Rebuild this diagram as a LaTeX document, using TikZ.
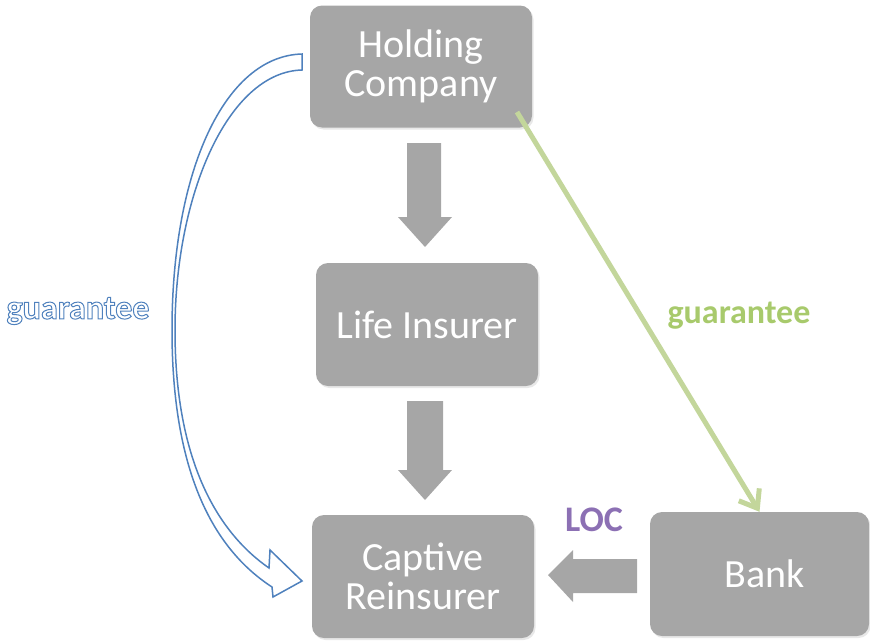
\documentclass[tikz,border=0pt]{standalone}
\usepackage{fontspec}
\setmainfont{Carlito}
\usetikzlibrary{arrows.meta,shadows}
\definecolor{boxgray}{RGB}{166,166,166}
\definecolor{guarblue}{RGB}{79,129,189}
\definecolor{guargreen}{RGB}{195,214,155}
\definecolor{guartext}{RGB}{168,202,108}
\definecolor{locpurple}{RGB}{140,112,180}
\newcommand\outlined[1]{\special{pdf:literal direct 1 Tr 1 w}#1\special{pdf:literal direct 0 Tr}}
\begin{document}
\begin{tikzpicture}[x=1pt,y=-1pt,
  box/.style={draw=none, fill=boxgray, rounded corners=12pt, text=white,
    font=\fontsize{40}{39}\selectfont, align=center,
    minimum width=222pt, minimum height=122pt, inner sep=0pt,
    drop shadow={opacity=0.18, shadow xshift=1.5pt, shadow yshift=-2pt}},
  blockarrow/.style={fill=boxgray, draw=none},
  lbl/.style={font=\bfseries\fontsize{34}{34}\selectfont, inner sep=0pt},
  greenarrow/.style={draw=guargreen, line width=5pt,
    -{Straight Barb[length=16pt, width=24pt]}},
  curvedarrow/.style={fill=white, draw=guarblue, line width=1.5pt, line join=miter}
]
\useasboundingbox (0,0) rectangle (870,640);

% boxes
\node[box] (hc) at (421,66.5) {Holding\\Company};
\node[box, minimum height=123pt] (li) at (427,324.5) {Life Insurer};
\node[box, minimum height=123pt] (cr) at (423,576.5) {Captive\\Reinsurer};
\node[box, minimum width=219pt, minimum height=124pt] (bk) at (759.5,574) {\hspace*{10pt}Bank};

% block arrows
\fill[blockarrow] (407,143) -- (441,143) -- (441,217) -- (452,217) -- (425,247)
  -- (398,217) -- (407,217) -- cycle;
\fill[blockarrow] (407,401) -- (443,401) -- (443,470) -- (452,470) -- (425,500)
  -- (398,470) -- (407,470) -- cycle;
\fill[blockarrow] (637,559) -- (637,593) -- (573,593) -- (573,602) -- (548,575)
  -- (573,550) -- (573,559) -- cycle;

% curved blue guarantee arrow
\draw[curvedarrow] (302,54) .. controls (225,56) and (172,170) .. (172,330)
  .. controls (172,470) and (212,548) .. (272,587)
  -- (273,597) -- (302,581) -- (270,550) -- (269,568)
  .. controls (220,534) and (175,465) .. (175,330)
  .. controls (175,195) and (228,72) .. (302,70) -- cycle;
\node[lbl, text=guarblue] (gl) at (78,311) {\outlined{guarantee}};

% green guarantee arrow
\coordinate (g1) at (517,112);
\draw[greenarrow] (g1) -- (bk.north);
\node[lbl, text=guartext] (gr) at (739,316) {guarantee};

% LOC label
\node[lbl, text=locpurple, font=\bfseries\fontsize{36}{36}\selectfont] (loc) at (594,520) {LOC};
\end{tikzpicture}
\end{document}
